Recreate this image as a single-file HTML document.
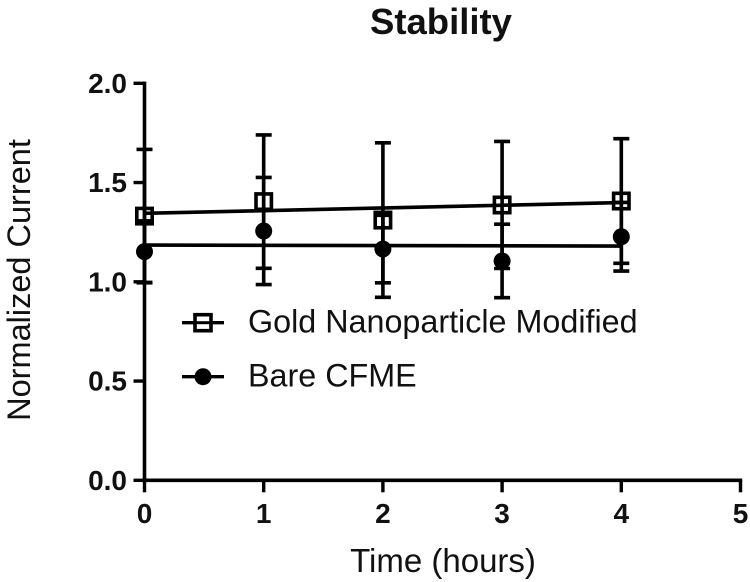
<!DOCTYPE html>
<html>
<head>
<meta charset="utf-8">
<style>
html,body{margin:0;padding:0;background:#fff;}
svg{display:block;filter:blur(0.35px);}
text{font-family:"Liberation Sans",sans-serif;fill:#111;}
</style>
</head>
<body>
<svg id="chart" width="750" height="582" viewBox="0 0 750 582" xmlns="http://www.w3.org/2000/svg">
  <rect x="0" y="0" width="750" height="582" fill="#ffffff"/>
  <text x="441" y="34" font-size="36.5" font-weight="700" text-anchor="middle">Stability</text>
  <text x="443" y="572" font-size="33" text-anchor="middle">Time (hours)</text>
  <text transform="translate(30,280) rotate(-90)" font-size="32.5" text-anchor="middle">Normalized Current</text>
  <g id="plot"></g>
  <g>
    <g>
      <line x1="182" x2="224" y1="322.7" y2="322.7" stroke="#000" stroke-width="3.4"/>
      <rect x="195" y="314.7" width="16" height="16" fill="#fff" stroke="#000" stroke-width="3.6"/>
      <line x1="195" x2="211" y1="322.7" y2="322.7" stroke="#000" stroke-width="3"/>
      <text x="248" y="332.5" font-size="32.3">Gold Nanoparticle Modified</text>
    </g>
    <g>
      <line x1="182" x2="224" y1="376.7" y2="376.7" stroke="#000" stroke-width="3.4"/>
      <circle cx="203" cy="376.7" r="8.5" fill="#000"/>
      <text x="248" y="386.5" font-size="32.3">Bare CFME</text>
    </g>
  </g>
</svg>
<script>
const hours = [0, 1, 2, 3, 4];
const goldMean = [1.331, 1.404, 1.311, 1.387, 1.407];
const goldError = [0.336, 0.336, 0.389, 0.320, 0.314];
const goldFit = [1.345, 1.399];
const bareMean = [1.152, 1.256, 1.165, 1.105, 1.227];
const bareError = [0.155, 0.270, 0.170, 0.185, 0.173];
const bareFit = [1.185, 1.180];
const xTickValues = [0, 1, 2, 3, 4, 5];
const yTickValues = [0, 0.5, 1, 1.5, 2];
const yTickLabels = ['0.0', '0.5', '1.0', '1.5', '2.0'];

const NS = 'http://www.w3.org/2000/svg';
const plot = document.getElementById('plot');
const INK = '#000';
function xScale(v) { return 144.5 + v * 119.2; }
function yScale(v) { return 480.3 - v * 198.5; }
function make(tag, attrs) {
  const el = document.createElementNS(NS, tag);
  for (const k in attrs) el.setAttribute(k, attrs[k]);
  plot.appendChild(el);
  return el;
}
function stroke(x1, y1, x2, y2, w) {
  return make('line', { x1: x1, y1: y1, x2: x2, y2: y2, stroke: INK, 'stroke-width': w });
}

// axes
const yAxis = stroke(xScale(0), yScale(2) - 1.7, xScale(0), yScale(0) + 1.7, 3.6);


const xAxis = stroke(xScale(0) - 1.7, yScale(0), xScale(5) + 1.7, yScale(0), 3.6);



yTickValues.forEach(function (v, i) {
  const t = stroke(xScale(0) - 11, yScale(v), xScale(0), yScale(v), 3.4);
  
  
  const l = make('text', { x: 127, y: yScale(v) + 9.5, 'font-size': 28, 'font-weight': 700, 'text-anchor': 'end' });
  l.textContent = yTickLabels[i];
  
  
});
xTickValues.forEach(function (v) {
  const t = stroke(xScale(v), yScale(0), xScale(v), yScale(0) + 12, 3.4);
  
  
  const l = make('text', { x: xScale(v), y: 523, 'font-size': 28, 'font-weight': 700, 'text-anchor': 'middle' });
  l.textContent = String(v);
  
  
});

function drawErrors(means, errors) {
  hours.forEach(function (h, i) {
    const x = xScale(h);
    const top = yScale(means[i] + errors[i]);
    const bot = yScale(means[i] - errors[i]);
    const bar = stroke(x, top, x, bot, 3.6);
    
    
    const capTop = stroke(x - 8, top, x + 8, top, 3.6);
    
    
    const capBot = stroke(x - 8, bot, x + 8, bot, 3.6);
    
    
  });
}
function drawFit(fit, name) {
  const line = stroke(xScale(hours[0]), yScale(fit[0]), xScale(hours[hours.length - 1]), yScale(fit[1]), 3.6);
  
  
}

drawErrors(bareMean, bareError);
drawErrors(goldMean, goldError);
drawFit(goldFit, 'gold-fit-line');
drawFit(bareFit, 'bare-fit-line');

hours.forEach(function (h, i) {
  const square = make('rect', {
    x: xScale(h) - 7.7, y: yScale(goldMean[i]) - 7.7, width: 15.4, height: 15.4,
    fill: 'none', stroke: INK, 'stroke-width': 3.6
  });
  
  
  const dot = make('circle', { cx: xScale(h), cy: yScale(bareMean[i]), r: 8.5, fill: INK });
  
  
});
</script>
</body>
</html>
